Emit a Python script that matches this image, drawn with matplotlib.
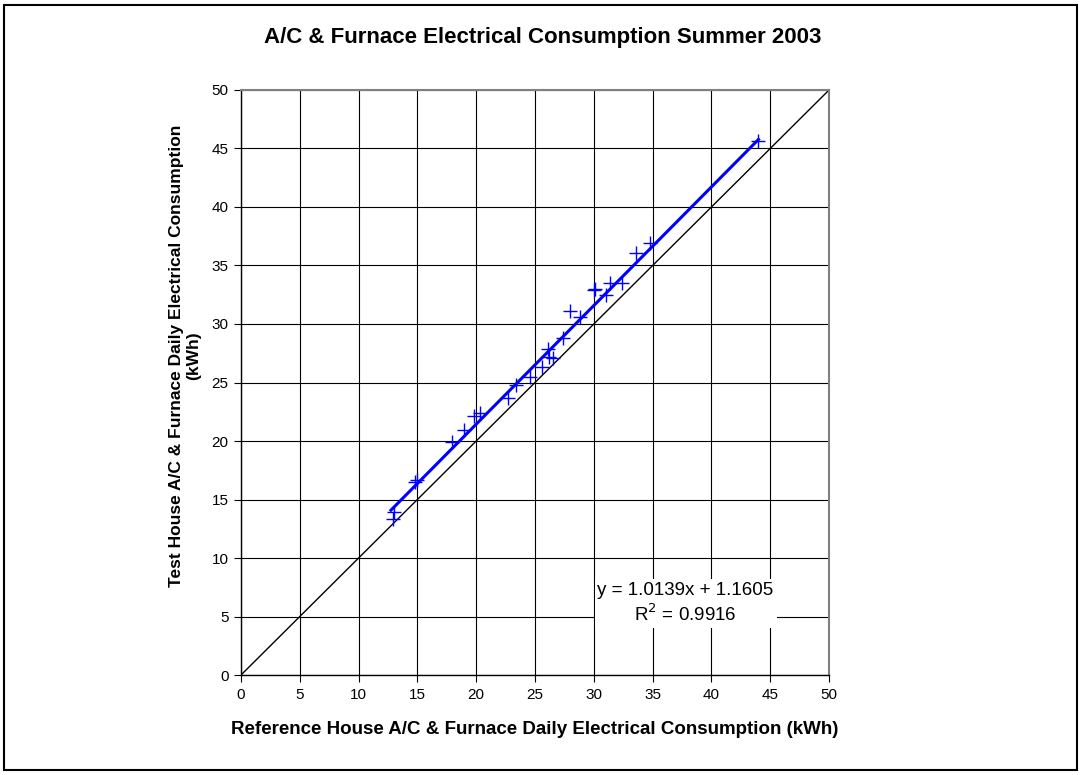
import numpy as np
import matplotlib
matplotlib.use("Agg")
from matplotlib import pyplot as plt
from matplotlib.patches import Rectangle

plt.rcParams['font.family'] = ['Liberation Sans', 'DejaVu Sans']

# daily consumption (kWh)
ref_kwh = [12.9, 13.0, 14.8, 15.0, 17.9, 19.0, 19.8, 20.3, 22.7, 23.4,
           24.6, 25.6, 26.1, 26.2, 26.5, 27.4, 28.0, 28.8, 30.0, 30.1,
           31.0, 31.4, 32.4, 33.6, 34.8, 44.0]
test_kwh = [13.3, 13.9, 16.5, 16.7, 19.9, 20.9, 22.1, 22.4, 23.7, 24.8,
            25.5, 26.3, 27.9, 27.2, 27.1, 28.8, 31.1, 30.6, 32.9, 33.0,
            32.5, 33.5, 33.5, 36.1, 36.9, 45.6]

# trendline from the chart's equation
slope = 1.0139
intercept = 1.1605
r2 = 0.9916

axis_ticks = [0, 5, 10, 15, 20, 25, 30, 35, 40, 45, 50]

fig = plt.figure(figsize=(10.86, 7.75), dpi=100)
ax = fig.add_axes([0.2219, 0.129, 0.5415, 0.7549])

# frame around the whole chart
fig.patches.append(Rectangle((0.004, 0.006), 0.988, 0.988, transform=fig.transFigure,
                             fill=False, edgecolor='black', linewidth=1.5))

ax.set_xlim(0, 50)
ax.set_ylim(0, 50)
ax.set_xticks(axis_ticks)
ax.set_yticks(axis_ticks)
ax.grid(True, color='black', linewidth=0.8)
ax.set_axisbelow(True)

# 1:1 line
ax.plot([0, 50], [0, 50], color='black', linewidth=1.0)

# trendline over the data range
xfit = np.array([min(ref_kwh) - 0.15, max(ref_kwh)])
ax.plot(xfit, slope * xfit + intercept, color='#0000FF', linewidth=2.2)

ax.plot(ref_kwh, test_kwh, linestyle='none', marker='+', markersize=10,
        markeredgewidth=1.0, color='#0000FF')

for side in ['top', 'right']:
    ax.spines[side].set_color('#808080')
    ax.spines[side].set_linewidth(1.5)
for side in ['left', 'bottom']:
    ax.spines[side].set_color('black')
    ax.spines[side].set_linewidth(1.0)

ax.tick_params(direction='out', length=5, width=0.8, labelsize=11, pad=4)

ax.set_xlabel('Reference House A/C & Furnace Daily Electrical Consumption (kWh)',
              fontsize=13.5, fontweight='bold', labelpad=14)
ax.set_ylabel('Test House A/C & Furnace Daily Electrical Consumption\n(kWh)',
              fontsize=12.5, fontweight='bold', linespacing=1.15)
ax.yaxis.set_label_coords(-0.068, 0.545)

fig.text(0.5, 0.951, 'A/C & Furnace Electrical Consumption Summer 2003',
         ha='center', va='center', fontsize=16, fontweight='bold')

ax.text(37.8, 6.1, 'y = %.4fx + %.4f\nR$^2$ = %.4f' % (slope, intercept, r2),
        ha='center', va='center', fontsize=13.5, linespacing=1.25,
        bbox=dict(facecolor='white', edgecolor='none', pad=2))

plt.savefig('out.png', dpi=100)
